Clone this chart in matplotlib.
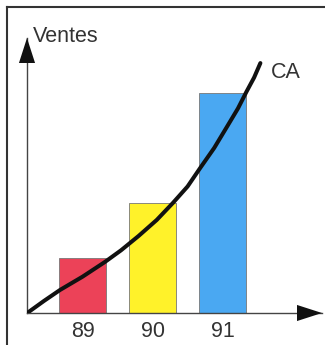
import numpy as np
import matplotlib.pyplot as plt
from matplotlib.lines import Line2D

plt.rcParams['font.family'] = ['Liberation Sans', 'DejaVu Sans']

# data
annees = ['89', '90', '91']
ventes = [25, 50, 100]
couleurs = ['#ec4258', '#fff22a', '#4aa8f2']

# courbe du CA
ca_x = [-0.79, -0.55, -0.32, 0.0, 0.32, 0.55, 0.80, 1.06, 1.29, 1.50, 1.68, 1.88, 2.06, 2.22, 2.34, 2.45, 2.54]
ca_y = [0.0, 5.5, 10.5, 16.5, 23.2, 28.5, 35.0, 42.3, 50.0, 57.5, 65.9, 75.0, 84.5, 93.0, 100.5, 107.0, 113.6]

W, H = 325, 345
fig = plt.figure(figsize=(W / 100, H / 100), dpi=100)
ax = fig.add_axes([27 / W, (H - 313) / H, (322 - 27) / W, (313 - 38) / H])

x = np.arange(len(annees))
ax.bar(x, ventes, width=0.67, color=couleurs, edgecolor='#777777', linewidth=0.6, zorder=2)
ax.plot(ca_x, ca_y, color='#111111', lw=2.9, solid_capstyle='round', zorder=3)

ax.set_xlim(-0.793, 3.42)
ax.set_ylim(0, 125)

for s in ['top', 'right']:
    ax.spines[s].set_visible(False)
for s in ['left', 'bottom']:
    ax.spines[s].set_color('#444444')
    ax.spines[s].set_linewidth(1.0)
ax.set_yticks([])
ax.set_xticks(x)
ax.set_xticklabels(annees, fontsize=15.5, color='#333333')
ax.tick_params(axis='x', length=0, pad=6)

# fleches des axes
fleche = dict(arrowstyle='-|>,head_length=1.8,head_width=0.58', mutation_scale=10,
              color='#111111', lw=0, shrinkA=0, shrinkB=0)
ax.annotate('', xy=(0, 1), xycoords='axes fraction', xytext=(0, 0.9),
            arrowprops=fleche, annotation_clip=False)
ax.annotate('', xy=(1, 0), xycoords='axes fraction', xytext=(0.9, 0),
            arrowprops=fleche, annotation_clip=False)

fig.text(33 / W, 1 - 36 / H, 'Ventes', fontsize=15.5, color='#333333', va='center', ha='left')
fig.text(271 / W, 1 - 72 / H, 'CA', fontsize=15.5, color='#333333', va='center', ha='left')

# cadre
fig.add_artist(Line2D([7 / W, 1], [1 - 7 / H, 1 - 7 / H], color='#333333', lw=1.5))
fig.add_artist(Line2D([7 / W, 7 / W], [0, 1 - 7 / H], color='#333333', lw=1.5))

fig.savefig('out.png', dpi=100)
